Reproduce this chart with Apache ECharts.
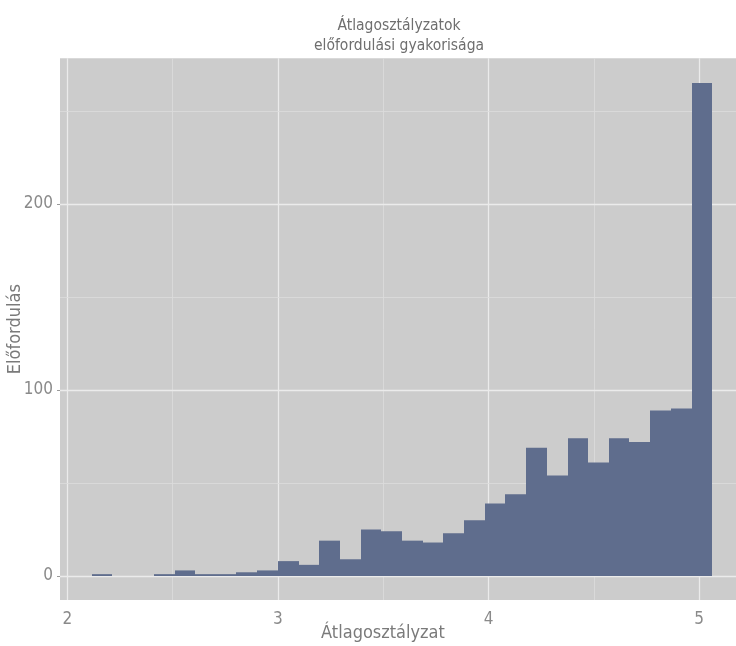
<!DOCTYPE html>
<html>
<head>
<meta charset="utf-8">
<script src="https://cdn.jsdelivr.net/npm/echarts@6/dist/echarts.min.js"></script>
<style>html,body{margin:0;padding:0;background:#fff;}#c{width:736px;height:646px;}</style>
</head>
<body>
<div id="c"></div>
<script>
// Histogram bin edges (Átlagosztályzat) and counts (Előfordulás)
const binEdges = [2.116, 2.214, 2.312, 2.411, 2.509, 2.607, 2.705, 2.803, 2.902, 3.000,
  3.098, 3.196, 3.294, 3.393, 3.491, 3.589, 3.687, 3.785, 3.884, 3.982,
  4.080, 4.178, 4.276, 4.375, 4.473, 4.571, 4.669, 4.767, 4.866, 4.964, 5.062];
const counts = [1, 0, 0, 1, 3, 1, 1, 2, 3, 8,
  6, 19, 9, 25, 24, 19, 18, 23, 30, 39,
  44, 69, 54, 74, 61, 74, 72, 89, 90, 265];
const xTicks = [2, 3, 4, 5];
const xMinorGrid = [2.5, 3.5, 4.5];
const yTicks = [0, 100, 200];
const yMinorGrid = [50, 150, 250];
const titleText = 'Átlagosztályzatok\nelőfordulási gyakorisága';
const xName = 'Átlagosztályzat';
const yName = 'Előfordulás';

const FONT = "'Liberation Sans Narrow', 'DejaVu Sans Condensed', Roboto, sans-serif";
const barData = counts.map((c, i) => [binEdges[i], binEdges[i + 1], c]);

const majorStyle = { color: '#ebebeb', width: 1.3, type: 'solid' };
const minorStyle = { color: '#dcdcdc', width: 0.8, type: 'solid' };
const gridLines = []
  .concat(xTicks.map(v => ({ xAxis: v, lineStyle: majorStyle })))
  .concat(xMinorGrid.map(v => ({ xAxis: v, lineStyle: minorStyle })))
  .concat(yTicks.map(v => ({ yAxis: v, lineStyle: majorStyle })))
  .concat(yMinorGrid.map(v => ({ yAxis: v, lineStyle: minorStyle })));

const chart = echarts.init(document.getElementById('c'), null, { renderer: 'canvas' });
chart.setOption({
  animation: false,
  backgroundColor: '#ffffff',
  title: {
    text: titleText,
    left: 394, top: 11, textAlign: 'center',
    textStyle: { fontFamily: FONT, fontSize: 15.5, fontWeight: 'normal', color: '#6e6e6e', lineHeight: 20 }
  },
  grid: {
    left: 60, right: 0, top: 58.3, bottom: 46,
    outerBoundsMode: 'none', containLabel: false,
    show: true, backgroundColor: '#cccccc', borderWidth: 0
  },
  xAxis: {
    type: 'value', min: 1.9653, max: 5.175,
    name: xName, nameLocation: 'middle', nameGap: 24, nameMoveOverlap: false,
    nameTextStyle: { fontFamily: FONT, fontSize: 18, color: '#7a7a7a', padding: [0, 30, 0, 0] },
    axisLine: { show: false },
    splitLine: { show: false },
    axisTick: { show: true, customValues: xTicks, length: 3, lineStyle: { color: '#9a9a9a' } },
    axisLabel: { customValues: xTicks, fontFamily: FONT, fontSize: 17, color: '#8a8a8a', margin: 11 }
  },
  yAxis: {
    type: 'value', min: -12.9, max: 278.3,
    name: yName, nameLocation: 'middle', nameGap: 36, nameMoveOverlap: false,
    nameTextStyle: { fontFamily: FONT, fontSize: 18, color: '#7a7a7a' },
    axisLine: { show: false },
    splitLine: { show: false },
    axisTick: { show: true, customValues: yTicks, length: 3, lineStyle: { color: '#9a9a9a' } },
    axisLabel: { customValues: yTicks, fontFamily: FONT, fontSize: 17, color: '#8a8a8a', margin: 7 }
  },
  series: [
    {
      type: 'line', data: [], silent: true, z: 1,
      markLine: { silent: true, z: 1, symbol: 'none', label: { show: false }, animation: false, data: gridLines }
    },
    {
      type: 'custom', z: 5,
      data: barData,
      encode: { x: [0, 1], y: 2 },
      renderItem: function (params, api) {
        const p0 = api.coord([api.value(0), 0]);
        const p1 = api.coord([api.value(1), api.value(2)]);
        const x0 = Math.round(p0[0]), x1 = Math.round(p1[0]);
        return {
          type: 'rect',
          shape: { x: x0, y: p1[1], width: x1 - x0, height: p0[1] - p1[1] },
          style: { fill: '#5f6d8d' }
        };
      }
    }
  ]
});
</script>
</body>
</html>
